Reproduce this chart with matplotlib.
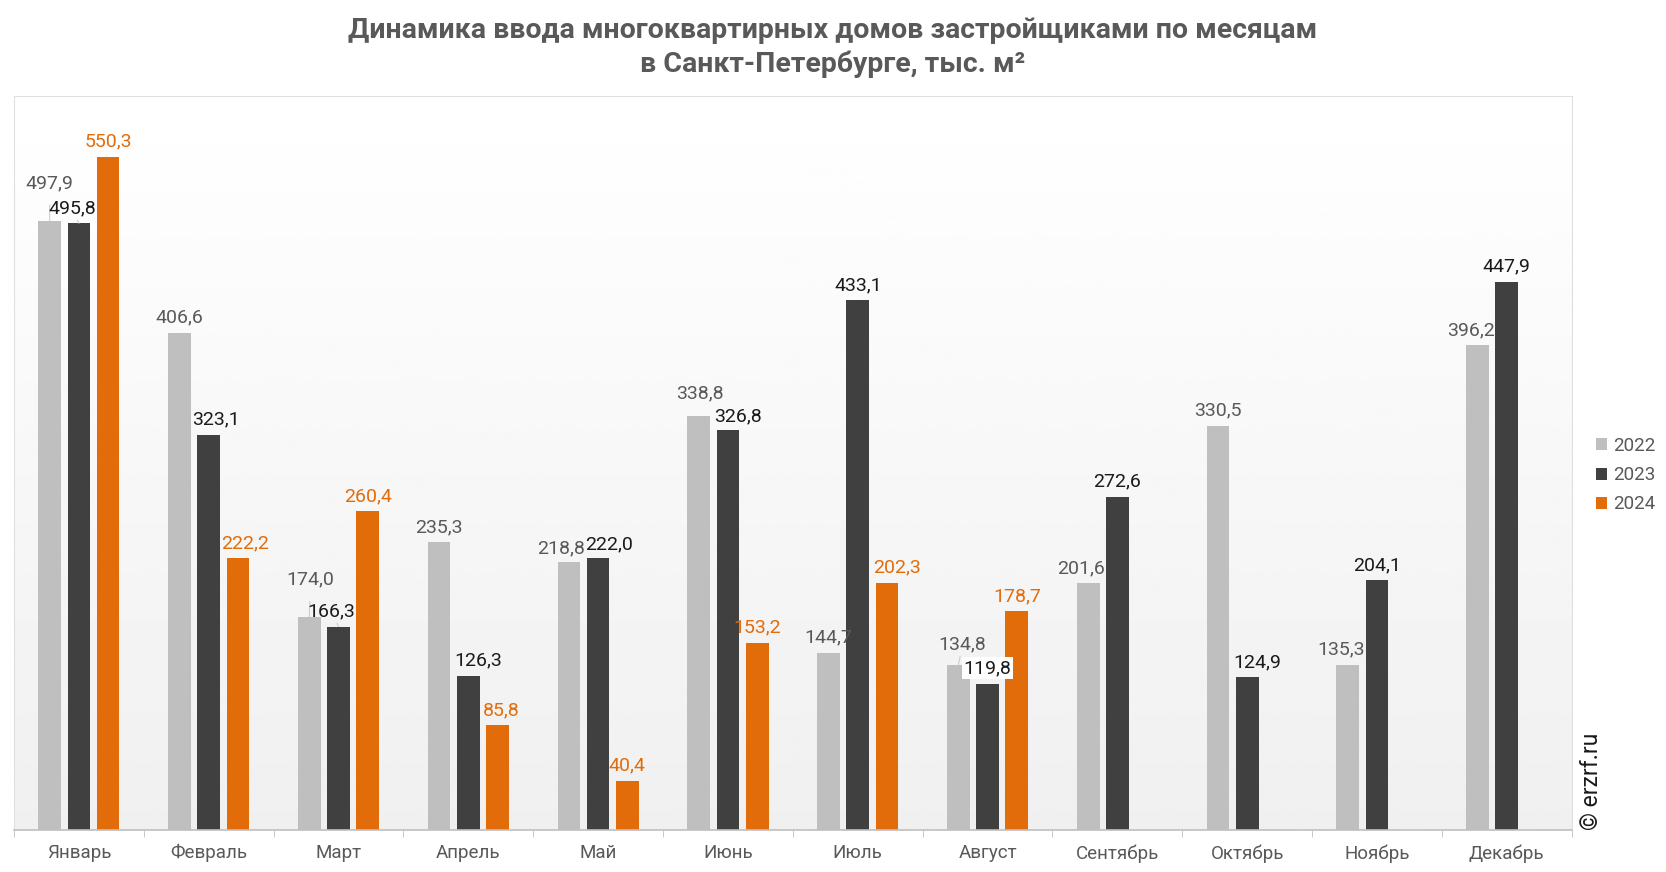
import matplotlib.pyplot as plt
import numpy as np

plt.rcParams['font.family'] = ['Roboto', 'DejaVu Sans']

months = ['Январь', 'Февраль', 'Март', 'Апрель', 'Май', 'Июнь', 'Июль',
          'Август', 'Сентябрь', 'Октябрь', 'Ноябрь', 'Декабрь']
years = ['2022', '2023', '2024']
v2022 = [497.9, 406.6, 174.0, 235.3, 218.8, 338.8, 144.7, 134.8, 201.6, 330.5, 135.3, 396.2]
v2023 = [495.8, 323.1, 166.3, 126.3, 222.0, 326.8, 433.1, 119.8, 272.6, 124.9, 204.1, 447.9]
v2024 = [550.3, 222.2, 260.4, 85.8, 40.4, 153.2, 202.3, 178.7, None, None, None, None]

colors = ['#bfbfbf', '#404040', '#e36c0a']
label_colors = ['#595959', '#1a1a1a', '#e36c0a']

# сдвиги подписей (в пунктах), где они в оригинале разнесены
label_shift = {
    (0, 0): (0, 27), (0, 1): (-5, 11),
    (1, 1): (5, 11), (1, 2): (5, 11),
    (2, 0): (1, 27), (2, 1): (-5, 11),
    (3, 1): (7, 11), (3, 2): (3, 11),
    (4, 0): (-6, 10), (4, 1): (8, 10),
    (5, 0): (1, 16), (5, 1): (7, 10),
    (6, 2): (7, 11),
    (7, 0): (3, 15),
    (8, 0): (-5, 11),
    (9, 1): (7, 11),
    (10, 0): (-5, 11),
    (11, 0): (-5, 11),
}
leader = {(0, 0), (0, 1), (2, 0), (2, 1), (7, 0)}

fig = plt.figure(figsize=(16.66, 8.72), dpi=100)
ax = fig.add_axes([0.0084, 0.048, 0.935, 0.842])

# фон с градиентом
grad = np.linspace(1.0, 0.94, 256).reshape(-1, 1)
ax.imshow(grad, extent=[0, 1, 0, 1], transform=ax.transAxes, cmap='gray',
          vmin=0, vmax=1, aspect='auto', zorder=0)

x = np.arange(len(months))
width = 0.175
step = 0.225
series = [v2022, v2023, v2024]
for k, vals in enumerate(series):
    for i, v in enumerate(vals):
        if v is None:
            continue
        xi = x[i] + (k - 1) * step
        ax.bar(xi, v, width=width, color=colors[k], zorder=2,
               label=years[k] if i == 0 else None)
        dx, dy = label_shift.get((i, k), (0, 11))
        txt = f'{v:.1f}'.replace('.', ',')
        kw = {}
        if (i, k) in leader:
            kw['arrowprops'] = dict(arrowstyle='-', color='#c8c8c8', lw=0.7,
                                    shrinkA=7, shrinkB=0)
        bbox = None
        if (i, k) == (7, 1):
            bbox = dict(boxstyle='square,pad=0.1', fc='white', ec='none')
        ax.annotate(txt, (xi, v), xytext=(dx, dy), textcoords='offset points',
                    ha='center', va='center', fontsize=14,
                    color=label_colors[k], bbox=bbox, zorder=4, **kw)

ax.set_xlim(-0.5, len(months) - 0.5)
ax.set_ylim(0, 600)
ax.set_yticks([])
ax.set_xticks(x)
ax.set_xticklabels(months, fontsize=13.5, color='#595959')
ax.tick_params(axis='x', length=0, pad=10)
ax.set_xticks(np.arange(-0.5, len(months)), minor=True)
ax.tick_params(axis='x', which='minor', length=5, color='#bfbfbf')

for s in ['top', 'left', 'right']:
    ax.spines[s].set_color('#e0e0e0')
ax.spines['bottom'].set_color('#bfbfbf')
ax.spines['bottom'].set_linewidth(1.2)

fig.suptitle('Динамика ввода многоквартирных домов застройщиками по месяцам\n'
             'в Санкт-Петербурге, тыс. м²',
             fontsize=20.5, fontweight='bold', color='#595959', y=0.98,
             linespacing=1.3)

leg = fig.legend(loc='center left', bbox_to_anchor=(0.948, 0.455),
                 frameon=False, fontsize=13.5, handlelength=0.6, handleheight=0.6,
                 handletextpad=0.3, labelspacing=0.6, labelcolor='#595959')

fig.text(0.9555, 0.048, '© erzrf.ru', rotation=90, fontsize=16.5,
         color='#1a1a1a', ha='center', va='bottom')

fig.savefig('out.png', dpi=100, facecolor='white')
